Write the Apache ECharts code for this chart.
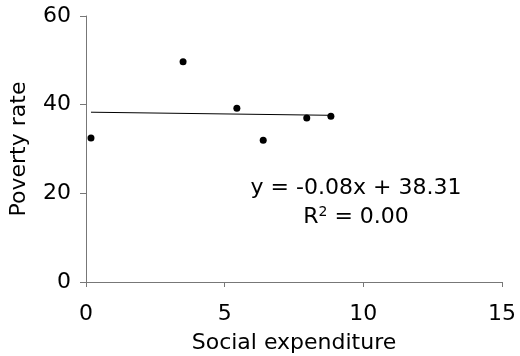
<!DOCTYPE html>
<html>
<head>
<meta charset="utf-8">
<script src="https://cdn.jsdelivr.net/npm/echarts@6/dist/echarts.min.js"></script>
<style>html,body{margin:0;padding:0;background:#fff}#c{width:520px;height:356px}</style>
</head>
<body>
<div id="c"></div>
<script>
const socialExpenditure = [0.18, 3.5, 5.44, 6.39, 7.96, 8.83];
const povertyRate = [32.5, 49.7, 39.2, 32.0, 37.0, 37.4];
const trendX = [0.18, 8.83];
const trendY = [38.30, 37.60];
const xTicks = [0, 5, 10, 15];
const yTicks = [0, 20, 40, 60];
const equationText = 'y = -0.08x + 38.31';

const FONT = 'DejaVu Sans';
const FS = 22;
const chart = echarts.init(document.getElementById('c'));
chart.setOption({
  animation: false,
  grid: {left: 86, right: 18, top: 16, bottom: 74, containLabel: false, outerBoundsMode: 'none'},
  xAxis: {
    type: 'value', min: xTicks[0], max: xTicks[xTicks.length-1], interval: 5,
    name: 'Social expenditure', nameLocation: 'middle', nameGap: 50,
    nameTextStyle: {fontFamily: FONT, fontSize: FS, color: '#000'},
    axisLine: {show: true, lineStyle: {color: '#777', width: 1}},
    axisTick: {show: true, length: 5, lineStyle: {color: '#777'}},
    axisLabel: {fontFamily: FONT, fontSize: FS, color: '#000', margin: 21},
    splitLine: {show: false}
  },
  yAxis: {
    type: 'value', min: yTicks[0], max: yTicks[yTicks.length-1], interval: 20,
    name: 'Poverty rate', nameLocation: 'middle', nameGap: 56, nameRotate: 90,
    nameTextStyle: {fontFamily: FONT, fontSize: FS, color: '#000'},
    axisLine: {show: true, lineStyle: {color: '#777', width: 1}},
    axisTick: {show: true, length: 6, lineStyle: {color: '#777'}},
    axisLabel: {fontFamily: FONT, fontSize: FS, color: '#000', margin: 15},
    splitLine: {show: false}
  },
  series: [
    {
      type: 'line',
      data: trendX.map((x, i) => [x, trendY[i]]),
      symbol: 'none',
      lineStyle: {color: '#000', width: 1},
      z: 1
    },
    {
      type: 'scatter',
      data: socialExpenditure.map((x, i) => [x, povertyRate[i]]),
      symbol: 'circle', symbolSize: 7,
      itemStyle: {color: '#000', opacity: 1},
      z: 2
    }
  ],
  graphic: [
    {type: 'text', x: 356, y: 188, style: {text: equationText, font: FS + 'px ' + FONT, fill: '#000', align: 'center', verticalAlign: 'middle'}},
    {type: 'text', x: 356, y: 217, style: {
      text: '{n|R}{s|2}{n| = 0.00}',
      align: 'center', verticalAlign: 'middle',
      rich: {
        n: {fontFamily: FONT, fontSize: FS, color: '#000'},
        s: {fontFamily: FONT, fontSize: 14, color: '#000', verticalAlign: 'top', padding: [0,0,9,0]}
      }
    }}
  ]
});
</script>
</body>
</html>
